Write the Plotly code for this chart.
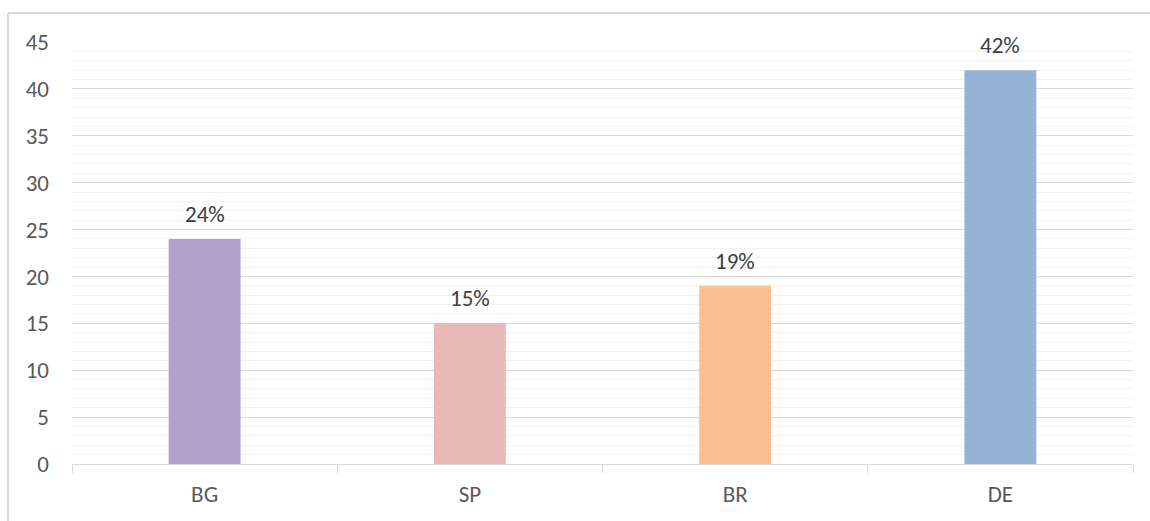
import plotly.graph_objects as go

# Chart data
categories = ["BG", "SP", "BR", "DE"]
values = [24, 15, 19, 42]
bar_colors = ["#B1A0C7", "#E6B8B7", "#FAC090", "#95B3D7"]
y_ticks = [0, 5, 10, 15, 20, 25, 30, 35, 40, 45]

FONT = "Calibri, Carlito, Lato, sans-serif"
SIZE = 23

fig = go.Figure(
    go.Bar(
        x=categories,
        y=values,
        marker=dict(color=bar_colors, line=dict(width=0)),
        hoverinfo="x+y",
    )
)

# Value labels above each bar
for cat, val in zip(categories, values):
    fig.add_annotation(
        x=cat, y=val, text=f"{val}%", showarrow=False,
        yshift=25, yanchor="middle",
        font=dict(family=FONT, size=SIZE, color="#404040"),
    )

# Chart-area frame (left and top edges)
L, T = 72, 42
PW, PH = 1061, 422
px = lambda v: (v - L) / PW
py = lambda v: (T + PH - v) / PH
frame = dict(color="#D9D9D9", width=2)
fig.add_shape(type="line", xref="paper", yref="paper",
              x0=px(8), x1=px(1160), y0=py(13), y1=py(13), line=frame)
fig.add_shape(type="line", xref="paper", yref="paper",
              x0=px(8), x1=px(8), y0=py(13), y1=py(530), line=frame)

fig.update_layout(
    width=1150, height=521,
    margin=dict(l=L, r=1150 - L - PW, t=T, b=521 - T - PH),
    paper_bgcolor="white", plot_bgcolor="white",
    bargap=0.729,
    showlegend=False,
    font=dict(family=FONT, size=SIZE, color="#595959"),
    xaxis=dict(
        type="category",
        showline=True, linecolor="#D9D9D9", linewidth=1,
        ticks="outside", tickson="boundaries", ticklen=8,
        tickcolor="#D9D9D9", tickwidth=1,
        showgrid=False, zeroline=False,
        ticklabelstandoff=9,
        tickfont=dict(family=FONT, size=SIZE, color="#595959"),
    ),
    yaxis=dict(
        range=[0, 45],
        tickvals=y_ticks,
        showgrid=True, gridcolor="#D9D9D9", gridwidth=1,
        minor=dict(dtick=1, showgrid=True, gridcolor="#F2F2F2", gridwidth=1),
        zeroline=False, showline=False, ticks="",
        ticklabelstandoff=22,
        tickfont=dict(family=FONT, size=SIZE, color="#595959"),
    ),
)

fig.write_html("out.html")
